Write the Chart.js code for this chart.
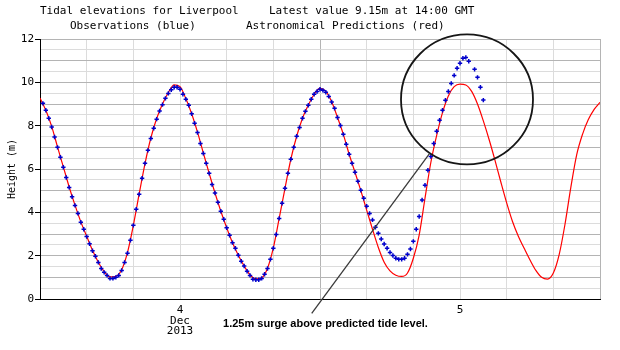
<!DOCTYPE html>
<html>
<head>
<meta charset="utf-8">
<title>Tidal elevations for Liverpool</title>
<script src="https://cdn.jsdelivr.net/npm/chart.js@4.4.1/dist/chart.umd.min.js"></script>
<style>
  body { margin: 0; background: #fff; }
  #tide { display: block; }
</style>
</head>
<body>
<canvas id="tide" width="620" height="350"></canvas>
<script>
// hours counted from 3 Dec 2013 12:00 GMT
const obsStart = 0.25
const obsStep = 0.25
// observed heights (m), every 15 minutes; null = missing reading
const obsValues = [
  9.03, 8.71, 8.34, 7.94, 7.48, 7.00, 6.54, 6.08, 5.61, 5.15, 4.72, 4.32,
  3.95, 3.54, 3.22, 2.88, 2.55, 2.23, 1.97, 1.69, 1.41, 1.23, 1.09, 0.95,
  0.95, 1.00, 1.09, 1.32, 1.69, 2.11, 2.71, 3.40, 4.14, 4.83, 5.57, 6.26,
  6.86, 7.41, 7.88, 8.30, 8.68, 8.97, 9.26, 9.49, 9.66, 9.77, 9.77, 9.68,
  9.45, 9.22, 8.94, 8.55, 8.11, 7.68, 7.18, 6.72, 6.26, 5.80, 5.28, 4.89,
  4.46, 4.05, 3.68, 3.29, 2.94, 2.60, 2.34, 2.02, 1.74, 1.52, 1.28, 1.09,
  0.91, 0.89, 0.89, 0.95, 1.14, 1.41, 1.83, 2.34, 2.98, 3.72, 4.42, 5.11,
  5.80, 6.45, 7.00, 7.51, 7.92, 8.34, 8.66, 8.94, 9.22, 9.45, 9.58, 9.68,
  9.63, 9.54, 9.35, 9.09, 8.80, 8.38, 8.01, 7.60, 7.14, 6.68, 6.26, 5.85,
  5.43, 5.02, 4.65, 4.28, 3.95, 3.65, 3.31, 3.03, 2.77, 2.54, 2.34, 2.15,
  2.01, 1.88, 1.83, 1.83, 1.88, 2.06, 2.31, 2.66, 3.22, 3.81, 4.57, 5.25,
  5.94, 6.58, 7.18, 7.74, 8.25, 8.71, 9.17, 9.58, 9.95, 10.32, 10.65, 10.88,
  11.11, 11.15, 10.97, null, 10.60, 10.23, 9.77, 9.18
]

const predStart = 0
const predStep = 0.5
// astronomical predictions (m), every 30 minutes
const predValues = [
  9.28, 8.71, 7.97, 7.02, 6.10, 5.17, 4.33, 3.56, 2.90, 2.25, 1.70, 1.27,
  1.02, 1.05, 1.35, 2.15, 3.40, 4.85, 6.25, 7.43, 8.33, 9.00, 9.53, 9.88,
  9.80, 9.25, 8.55, 7.70, 6.74, 5.80, 4.89, 4.05, 3.29, 2.60, 2.02, 1.52,
  1.12, 0.93, 0.98, 1.42, 2.36, 3.72, 5.11, 6.45, 7.51, 8.34, 8.95, 9.45,
  9.72, 9.58, 9.10, 8.38, 7.60, 6.68, 5.85, 5.00, 4.10, 3.22, 2.38, 1.70,
  1.30, 1.10, 1.04, 1.20, 1.88, 2.95, 4.65, 6.30, 7.55, 8.60, 9.37, 9.80,
  9.92, 9.88, 9.58, 9.00, 8.22, 7.35, 6.40, 5.40, 4.44, 3.58, 2.90, 2.34,
  1.80, 1.32, 1.00, 0.92, 1.20, 2.05, 3.45, 5.15, 6.65, 7.60, 8.28, 8.75,
  9.08
]

const dayTickHours = [12, 36]
const dayTickLabels = [['4', 'Dec', '2013'], ['5']]

const titleLeft = 'Tidal elevations for Liverpool'
const titleRight = 'Latest value 9.15m at 14:00 GMT'
const subLeft = 'Observations (blue)'
const subRight = 'Astronomical Predictions (red)'

const noteText = '1.25m surge above predicted tide level.'
const noteAt = [15.69, -1.27]
const pointerFrom = [23.29, -0.66]
const pointerTo = [33.40, 6.72]
const circleAt = [36.6, 9.21]

const mono = "'DejaVu Sans Mono', 'Liberation Mono', monospace"

function toPoints(start, step, values) {
  return values.map((v, i) => ({ x: start + i * step, y: v }))
}

const headerPlugin = {
  id: 'header',
  afterDraw(chart) {
    const ctx = chart.ctx
    ctx.save()
    ctx.font = '11px ' + mono
    ctx.fillStyle = '#000'
    ctx.textAlign = 'left'
    ctx.textBaseline = 'alphabetic'
    ctx.fillText(titleLeft, 40, 14)
    ctx.fillText(titleRight, 269, 14)
    ctx.fillText(subLeft, 70, 29)
    ctx.fillText(subRight, 246, 29)
    ctx.restore()
  }
}

const notePlugin = {
  id: 'surgeNote',
  afterDatasetsDraw(chart) {
    const ctx = chart.ctx
    const x = chart.scales.x
    const y = chart.scales.y
    ctx.save()
    ctx.beginPath()
    ctx.ellipse(x.getPixelForValue(circleAt[0]), y.getPixelForValue(circleAt[1]), 66, 65, 0, 0, Math.PI * 2)
    ctx.strokeStyle = '#161616'
    ctx.lineWidth = 1.8
    ctx.stroke()

    ctx.beginPath()
    ctx.moveTo(x.getPixelForValue(pointerFrom[0]), y.getPixelForValue(pointerFrom[1]))
    ctx.lineTo(x.getPixelForValue(pointerTo[0]), y.getPixelForValue(pointerTo[1]))
    ctx.strokeStyle = '#3a3a3a'
    ctx.lineWidth = 1.3
    ctx.stroke()

    ctx.font = "bold 11px 'Liberation Sans', Arial, sans-serif"
    ctx.fillStyle = '#000'
    ctx.textAlign = 'left'
    ctx.textBaseline = 'alphabetic'
    ctx.fillText(noteText, x.getPixelForValue(noteAt[0]), y.getPixelForValue(noteAt[1]))
    ctx.restore()
  }
}

new Chart(document.getElementById('tide'), {
  type: 'scatter',
  data: {
    datasets: [
      {
        label: 'Observations',
        data: toPoints(obsStart, obsStep, obsValues),
        showLine: false,
        pointStyle: 'cross',
        pointRadius: 2.2,
        pointBorderWidth: 1.5,
        borderColor: '#0000cc',
        backgroundColor: '#0000cc'
      },
      {
        label: 'Predictions',
        data: toPoints(predStart, predStep, predValues),
        showLine: true,
        pointRadius: 0,
        borderColor: '#ff0000',
        borderWidth: 1.2,
        cubicInterpolationMode: 'monotone'
      }
    ]
  },
  options: {
    responsive: false,
    animation: false,
    layout: { padding: { top: 39, right: 20, left: 0, bottom: 0 } },
    plugins: {
      legend: { display: false },
      tooltip: { enabled: false },
      title: { display: false }
    },
    scales: {
      x: {
        type: 'linear',
        min: 0,
        max: 48,
        afterFit: (s) => { s.height = 51 },
        border: { color: '#000', width: 1 },
        grid: {
          drawTicks: false,
          color: (c) => (c.tick && c.tick.value % 24 === 0) ? '#b4b4b4' : '#dcdcdc'
        },
        ticks: {
          stepSize: 4,
          autoSkip: false,
          maxRotation: 0,
          padding: 6,
          color: '#000',
          font: { family: mono, size: 11, lineHeight: 0.95 },
          callback: (v) => {
            const i = dayTickHours.indexOf(v)
            return i >= 0 ? dayTickLabels[i] : ''
          }
        }
      },
      y: {
        min: 0,
        max: 12,
        afterFit: (s) => { s.width = 40 },
        border: { color: '#000', width: 1 },
        grid: {
          tickLength: 5,
          color: (c) => (c.tick && Number.isInteger(c.tick.value)) ? '#b4b4b4' : '#dcdcdc',
          tickColor: (c) => (c.tick && c.tick.value % 2 === 0) ? '#000' : 'rgba(0,0,0,0)'
        },
        ticks: {
          stepSize: 0.5,
          autoSkip: false,
          padding: 1,
          color: '#000',
          font: { family: mono, size: 11 },
          callback: (v) => v % 2 === 0 ? String(v) : ''
        },
        title: {
          display: true,
          text: 'Height (m)',
          color: '#000',
          font: { family: mono, size: 10 },
          padding: { top: 6, bottom: 0 }
        }
      }
    }
  },
  plugins: [headerPlugin, notePlugin]
})
</script>
</body>
</html>
